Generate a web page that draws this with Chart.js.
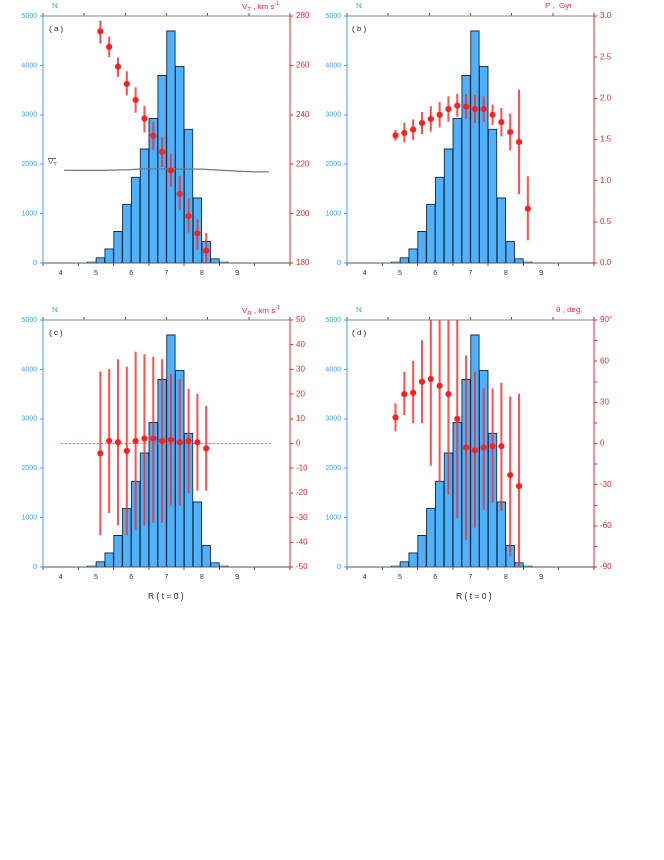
<!DOCTYPE html>
<html>
<head>
<meta charset="utf-8">
<script src="https://cdn.jsdelivr.net/npm/chart.js@4.4.1/dist/chart.umd.min.js"></script>
<style>
  body{margin:0;background:#fff;width:664px;height:860px;position:relative;font-family:"Liberation Sans",Arial,sans-serif;}
  .pane{position:absolute;width:332px;height:300px;}
  .pane canvas{width:332px;height:300px;}
  .lbl{position:absolute;font-size:8px;white-space:nowrap;}
  .blue{color:#3aa0f0;} .red{color:#ff2222;} .dark{color:#222;}
  sub{font-size:6px;vertical-align:-2px;} sup{font-size:5px;vertical-align:4px;}
</style>
</head>
<body>
<div class="pane" style="left:0;top:0"><canvas id="ca" width="332" height="300"></canvas></div>
<div class="pane" style="left:304px;top:0"><canvas id="cb" width="332" height="300"></canvas></div>
<div class="pane" style="left:0;top:304px"><canvas id="cc" width="332" height="300"></canvas></div>
<div class="pane" style="left:304px;top:304px"><canvas id="cd" width="332" height="300"></canvas></div>

<div class="lbl blue" style="left:52px;top:1px">N</div>
<div class="lbl red" style="left:242px;top:0px">V<sub>T</sub> , km s<sup>-1</sup></div>
<div class="lbl dark" style="left:49px;top:24px">( a )</div>
<div class="lbl" style="left:48px;top:157px;color:#666">V<sub>T</sub></div>
<div style="position:absolute;left:48px;top:158px;width:8px;border-top:1px solid #666"></div>

<div class="lbl blue" style="left:356px;top:1px">N</div>
<div class="lbl red" style="left:545px;top:1px">P ,&nbsp; Gyr</div>
<div class="lbl dark" style="left:352px;top:24px">( b )</div>

<div class="lbl blue" style="left:52px;top:305px">N</div>
<div class="lbl red" style="left:242px;top:304px">V<sub>R</sub> , km s<sup>-1</sup></div>
<div class="lbl dark" style="left:49px;top:328px">( c )</div>
<div class="lbl dark" style="left:148px;top:591px;font-size:8.5px">R ( t = 0 )</div>

<div class="lbl blue" style="left:356px;top:305px">N</div>
<div class="lbl red" style="left:556px;top:305px">θ , deg.</div>
<div class="lbl dark" style="left:352px;top:328px">( d )</div>
<div class="lbl dark" style="left:456px;top:591px;font-size:8.5px">R ( t = 0 )</div>

<script>
// histogram of R(t=0), bin width 0.25
var binCenters = [4.875,5.125,5.375,5.625,5.875,6.125,6.375,6.625,6.875,7.125,7.375,7.625,7.875,8.125,8.375,8.625];
var counts = [20,110,290,640,1190,1740,2310,2930,3800,4700,3980,2710,1320,440,90,20];

// (a) V_T
var vtX = [5.125,5.375,5.625,5.875,6.125,6.375,6.625,6.875,7.125,7.375,7.625,7.875,8.125];
var vtY = [273.8,267.5,259.5,252.5,246,238.5,231.5,225,217.5,208,199,192,185];
var vtLo = [269,263.5,255.5,248,241,233,226,219,211,201.5,192.5,185.5,178];
var vtHi = [278,271.5,263,257.5,251,243.5,237,231,224,215,206,197.5,192];
var vtMeanX = [4.1,5.2,6.0,6.3,7.0,7.5,8.0,8.5,9.0,9.5,9.9];
var vtMeanY = [217.5,217.5,217.8,218.1,218.1,218,218,217.6,217.2,216.9,216.9];

// (b) P
var pX = [4.875,5.125,5.375,5.625,5.875,6.125,6.375,6.625,6.875,7.125,7.375,7.625,7.875,8.125,8.375,8.625];
var pY = [1.55,1.58,1.62,1.70,1.75,1.80,1.87,1.91,1.90,1.87,1.87,1.80,1.71,1.59,1.47,0.66];
var pLo = [1.49,1.47,1.50,1.57,1.60,1.65,1.72,1.78,1.75,1.70,1.72,1.68,1.54,1.37,0.84,0.28];
var pHi = [1.61,1.70,1.74,1.83,1.90,1.95,2.02,2.05,2.05,2.04,2.02,1.92,1.88,1.81,2.10,1.05];

// (c) V_R
var vrX = [5.125,5.375,5.625,5.875,6.125,6.375,6.625,6.875,7.125,7.375,7.625,7.875,8.125];
var vrY = [-4,1,0.5,-3,1,2,2,1,1.5,0.5,1,0.5,-2];
var vrLo = [-37,-28,-33,-37,-35,-33,-32,-32,-25,-25,-20,-19,-19];
var vrHi = [29,30,34,31,37,36,35,34,28,26,22,20,15];

// (d) theta
var thX = [4.875,5.125,5.375,5.625,5.875,6.125,6.375,6.625,6.875,7.125,7.375,7.625,7.875,8.125,8.375];
var thY = [19,36,37,45,47,42,36,18,-3,-5,-3,-2,-2,-23,-31];
var thLo = [9,21,15,15,-16,-28,-37,-54,-70,-61,-48,-43,-49,-82,-90];
var thHi = [29,52,60,75,90,90,90,90,64,52,40,40,44,34,36];

var BLUE = '#3aa0f0', RED = '#ff2020';

function pairs(xs, ys){ return xs.map(function(x,i){ return {x:x, y:ys[i]}; }); }
function ranges(xs, lo, hi){ return xs.map(function(x,i){ return {x:x, y:[lo[i],hi[i]]}; }); }

function makePanel(id, px, py, lo, hi, yr, extra){
  var datasets = [
    {type:'scatter', data:pairs(px,py), yAxisID:'y2', backgroundColor:RED, borderColor:RED, pointRadius:2.6, order:0},
    {type:'bar', data:ranges(px,lo,hi), yAxisID:'y2', backgroundColor:'rgba(255,40,40,0.8)', barThickness:1.4, grouped:false, order:1},
    {type:'bar', data:pairs(binCenters,counts), yAxisID:'y', backgroundColor:'#4db2fb', borderColor:'#1b2a3c', borderWidth:1, barPercentage:1, categoryPercentage:1, grouped:false, order:3}
  ].concat(extra || []);
  new Chart(document.getElementById(id), {
    data:{datasets:datasets},
    options:{
      responsive:false, animation:false, devicePixelRatio:2,
      layout:{padding:{top:16}},
      plugins:{legend:{display:false}, tooltip:{enabled:false}},
      scales:{
        x:{type:'linear', min:4, max:10, position:'bottom',
           border:{color:'#555'}, grid:{drawOnChartArea:false, tickLength:3, color:'#555'},
           ticks:{stepSize:1, color:'#333', font:{size:7}, callback:function(v){ return v<10 ? String(v) : ''; }},
           afterFit:function(s){ s.height = 37; }},
        xt:{type:'linear', min:4, max:10, position:'top',
           border:{color:'#888'}, grid:{drawOnChartArea:false, tickLength:3, color:'#555'},
           ticks:{stepSize:1, callback:function(){ return ''; }, font:{size:1}, padding:0},
           afterFit:function(s){ s.height = 0; }},
        y:{min:0, max:5000, position:'left',
           border:{color:BLUE}, grid:{drawOnChartArea:false, tickLength:3, color:BLUE},
           ticks:{stepSize:1000, color:BLUE, font:{size:7}, callback:function(v){ return String(v); }},
           afterFit:function(s){ s.width = 43; }},
        y2:{min:yr.min, max:yr.max, position:'right',
           border:{color:RED}, grid:{drawOnChartArea:false, tickLength:3, color:RED},
           ticks:{stepSize:yr.step, color:RED, font:{size:8}, callback:yr.cb || function(v){ return yr.fmt ? v.toFixed(1) : String(v); }},
           afterFit:function(s){ s.width = 42; }}
      }
    }
  });
}

makePanel('ca', vtX, vtY, vtLo, vtHi, {min:180, max:280, step:20}, [
  {type:'line', data:pairs(vtMeanX, vtMeanY), yAxisID:'y2', borderColor:'#777', borderWidth:1.2, pointRadius:0, order:2}
]);
makePanel('cb', pX, pY, pLo, pHi, {min:0, max:3, step:0.5, fmt:true});
makePanel('cc', vrX, vrY, vrLo, vrHi, {min:-50, max:50, step:10}, [
  {type:'line', data:[{x:4,y:0},{x:10,y:0}], yAxisID:'y2', borderColor:'rgba(255,60,60,0.8)', borderWidth:1, borderDash:[2,2], pointRadius:0, order:2}
]);
makePanel('cd', thX, thY, thLo, thHi, {min:-90, max:90, step:15, cb:function(v){
  if (v % 30 !== 0) return '';
  return v === 90 ? '90°' : String(v);
}});
</script>
</body>
</html>
